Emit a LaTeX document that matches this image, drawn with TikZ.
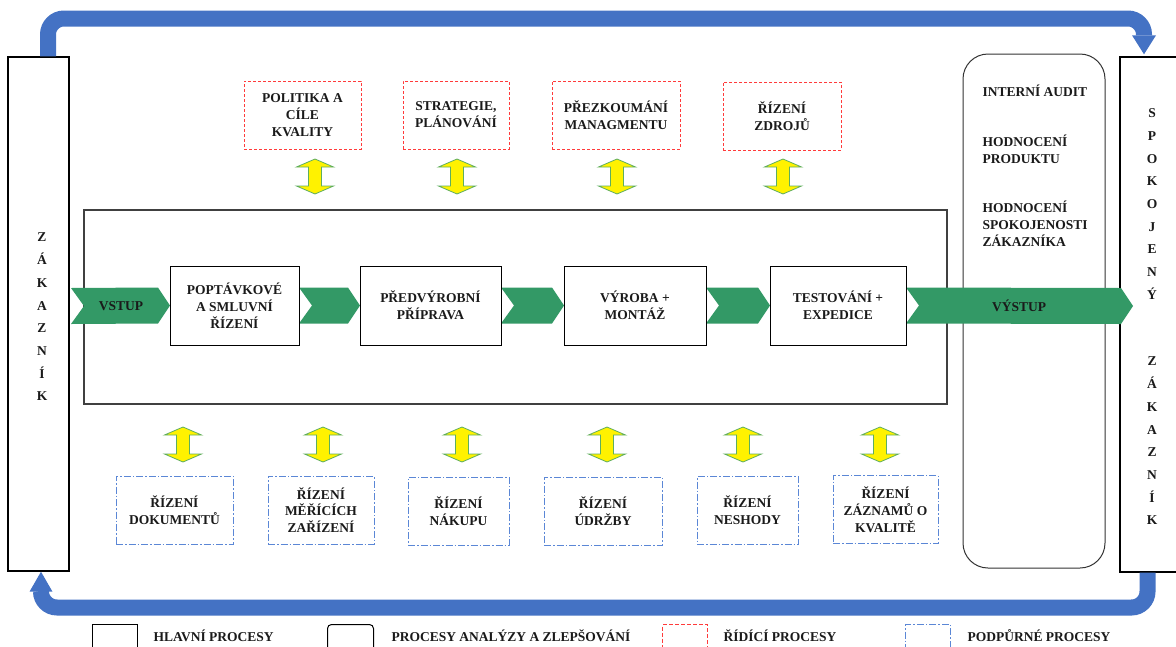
\documentclass[tikz,border=0pt]{standalone}
\usepackage{fontspec}
\setmainfont{Liberation Serif}
\usetikzlibrary{arrows.meta,calc}
\definecolor{arrblue}{HTML}{4472C4}
\definecolor{chgreen}{HTML}{339966}
\definecolor{dashred}{HTML}{FF3B3B}
\definecolor{dashblue}{HTML}{5B87D6}
\definecolor{ygreen}{HTML}{5FAE5F}
\definecolor{txt}{HTML}{1A1A1A}
\newcommand\chevr[2]{\fill[chev] ($(#1)+(0,-18)$) -- ($(#2)+(-12,-18)$) -- (#2) -- ($(#2)+(-12,18)$) -- ($(#1)+(0,18)$) -- ($(#1)+(13,0)$) -- cycle;}
\newcommand\yarr[2]{\draw[yarrow] (#1,#2) -- (#1+18.5,#2+8) -- (#1+6.5,#2+8) -- (#1+6.5,#2+27) -- (#1+18.5,#2+27) -- (#1,#2+35) -- (#1-18.5,#2+27) -- (#1-6.5,#2+27) -- (#1-6.5,#2+8) -- (#1-18.5,#2+8) -- cycle;}
\begin{document}
\begin{tikzpicture}[x=1pt,y=-1pt,
  font=\bfseries\fontsize{13.5}{16.8}\selectfont, text=txt,
  side/.style={draw=black, line width=1.4pt, fill=white, inner sep=0pt},
  mainbox/.style={draw=black, line width=1pt, fill=white, align=center, inner sep=0pt},
  ctrlbox/.style={draw=dashred, line width=1pt, dash pattern=on 3pt off 2pt, align=center, inner sep=0pt, minimum height=68pt},
  supbox/.style={draw=dashblue, line width=1pt, dash pattern=on 7pt off 2pt on 1.5pt off 2pt, align=center, inner sep=0pt, minimum height=68pt},
  chev/.style={fill=chgreen},
  loopar/.style={draw=arrblue, line width=16pt, rounded corners=16pt},
  yarrow/.style={fill=yellow, draw=ygreen, line width=0.8pt, line join=miter},
  vert/.style={align=center, font=\bfseries\fontsize{13.5}{22.7}\selectfont},
  lgtext/.style={anchor=west}
]
\clip (0,0) rectangle (1176,646);
\fill[white] (0,0) rectangle (1176,646);

% side boxes
\node[side, minimum width=61pt, minimum height=514pt] (cust) at (38.5,314) {};
\node[side, minimum width=60pt, minimum height=515pt] (sat) at (1150,314.5) {};

% loop arrows
\draw[loopar, -{Triangle[width=24pt,length=19pt,line width=0pt]}] ([xshift=9.5pt]cust.north) |- (1144,18.5) -- ([xshift=-6pt,yshift=2pt]sat.north);
\draw[loopar, -{Triangle[width=23pt,length=20pt,line width=0pt]}] ([xshift=-2.5pt]sat.south) |- (41,607.5) -- ([xshift=2.5pt]cust.south);

% vertical texts
\node[vert] (custtxt) at (42,317) {Z\\Á\\K\\A\\Z\\N\\Í\\K};
\node[vert] (sattxt1) at (1152,204) {S\\P\\O\\K\\O\\J\\E\\N\\Ý};
\node[vert] (sattxt2) at (1152,441) {Z\\Á\\K\\A\\Z\\N\\Í\\K};

% main frame and analysis box
\node[draw=black!75, line width=1.1pt, minimum width=863pt, minimum height=194pt, inner sep=0pt] (main) at (515.5,307) {};
\node[draw=black!80, line width=1pt, rounded corners=25pt, minimum width=142pt, minimum height=514pt, inner sep=0pt] (anal) at (1034,311) {};
\node[anchor=west] (a1) at (979,91) {INTERNÍ AUDIT};
\node[anchor=west, align=left] (a2) at (979,149) {HODNOCENÍ\\PRODUKTU};
\node[anchor=west, align=left] (a3) at (979,223.5) {HODNOCENÍ\\SPOKOJENOSTI\\ZÁKAZNÍKA};

% control processes
\node[ctrlbox, minimum width=117pt] (c1) at (302.5,115) {POLITIKA A\\CÍLE\\KVALITY};
\node[ctrlbox, minimum width=106pt] (c2) at (456,115) {STRATEGIE,\\PLÁNOVÁNÍ};
\node[ctrlbox, minimum width=128pt] (c3) at (616,115) {PŘEZKOUMÁNÍ\\MANAGMENTU};
\node[ctrlbox, minimum width=118pt] (c4) at (782,116) {ŘÍZENÍ\\ZDROJŮ};

% support processes
\node[supbox, minimum width=117pt] (s1) at (174.5,510) {ŘÍZENÍ\\DOKUMENTŮ};
\node[supbox, minimum width=106pt] (s2) at (321,510) {ŘÍZENÍ\\MĚŘÍCÍCH\\ZAŘÍZENÍ};
\node[supbox, minimum width=101pt] (s3) at (458.5,511) {ŘÍZENÍ\\NÁKUPU};
\node[supbox, minimum width=118pt] (s4) at (603,511) {ŘÍZENÍ\\ÚDRŽBY};
\node[supbox, minimum width=101pt] (s5) at (747.5,510.5) {ŘÍZENÍ\\NESHODY};
\node[supbox, minimum width=105pt] (s6) at (885.5,509.5) {ŘÍZENÍ\\ZÁZNAMŮ O\\KVALITĚ};

% yellow double arrows
\yarr{315}{159}
\yarr{457}{159}
\yarr{617}{159}
\yarr{783}{159}
\yarr{183}{427}
\yarr{323}{427}
\yarr{462}{427}
\yarr{607}{427}
\yarr{743}{427}
\yarr{880}{427}

% main process positions
\coordinate (p1w) at (170,305.5);
\coordinate (p1e) at (299,305.5);
\coordinate (p2w) at (360,305.5);
\coordinate (p2e) at (501,305.5);
\coordinate (p3w) at (564,305.5);
\coordinate (p3e) at (706,305.5);
\coordinate (p4w) at (770,305.5);
\coordinate (p4e) at (906,305.5);
\coordinate (vin) at (71,306);
\coordinate (vout) at (1133,306);

% chevrons (drawn under the process boxes)
\chevr{vin}{p1w}
\chevr{p1e}{p2w}
\chevr{p2e}{p3w}
\chevr{p3e}{p4w}
\chevr{p4e}{vout}

% main processes
\node[mainbox, minimum width=129pt, minimum height=79pt] (p1) at (234.5,305.5) {POPTÁVKOVÉ\\A SMLUVNÍ\\ŘÍZENÍ};
\node[mainbox, minimum width=141pt, minimum height=79pt] (p2) at (430.5,305.5) {PŘEDVÝROBNÍ\\PŘÍPRAVA};
\node[mainbox, minimum width=142pt, minimum height=79pt] (p3) at (635,305.5) {VÝROBA +\\MONTÁŽ};
\node[mainbox, minimum width=136pt, minimum height=79pt] (p4) at (838,305.5) {TESTOVÁNÍ +\\EXPEDICE};

\node (vstup) at (121,306) {VSTUP};
\node (vystup) at (1019,306) {VÝSTUP};

% legend
\node[draw=black, line width=1pt, minimum width=45pt, minimum height=28pt, anchor=north west, inner sep=0pt] (lg1) at (92,624) {};
\node[lgtext] (lt1) at (150,636) {HLAVNÍ PROCESY};
\node[draw=black, line width=1pt, rounded corners=4pt, minimum width=46pt, minimum height=28pt, anchor=north west, inner sep=0pt] (lg2) at (327,624) {};
\node[lgtext] (lt2) at (388,636) {PROCESY ANALÝZY A ZLEPŠOVÁNÍ};
\node[draw=dashred, line width=1pt, dash pattern=on 4pt off 2pt, minimum width=45pt, minimum height=28pt, anchor=north west, inner sep=0pt] (lg3) at (662,624) {};
\node[lgtext] (lt3) at (720,636) {ŘÍDÍCÍ PROCESY};
\node[draw=dashblue, line width=1pt, dash pattern=on 7pt off 2pt on 1.5pt off 2pt, minimum width=45pt, minimum height=28pt, anchor=north west, inner sep=0pt] (lg4) at (905,624) {};
\node[lgtext] (lt4) at (964,636) {PODPŮRNÉ PROCESY};
\end{tikzpicture}
\end{document}
